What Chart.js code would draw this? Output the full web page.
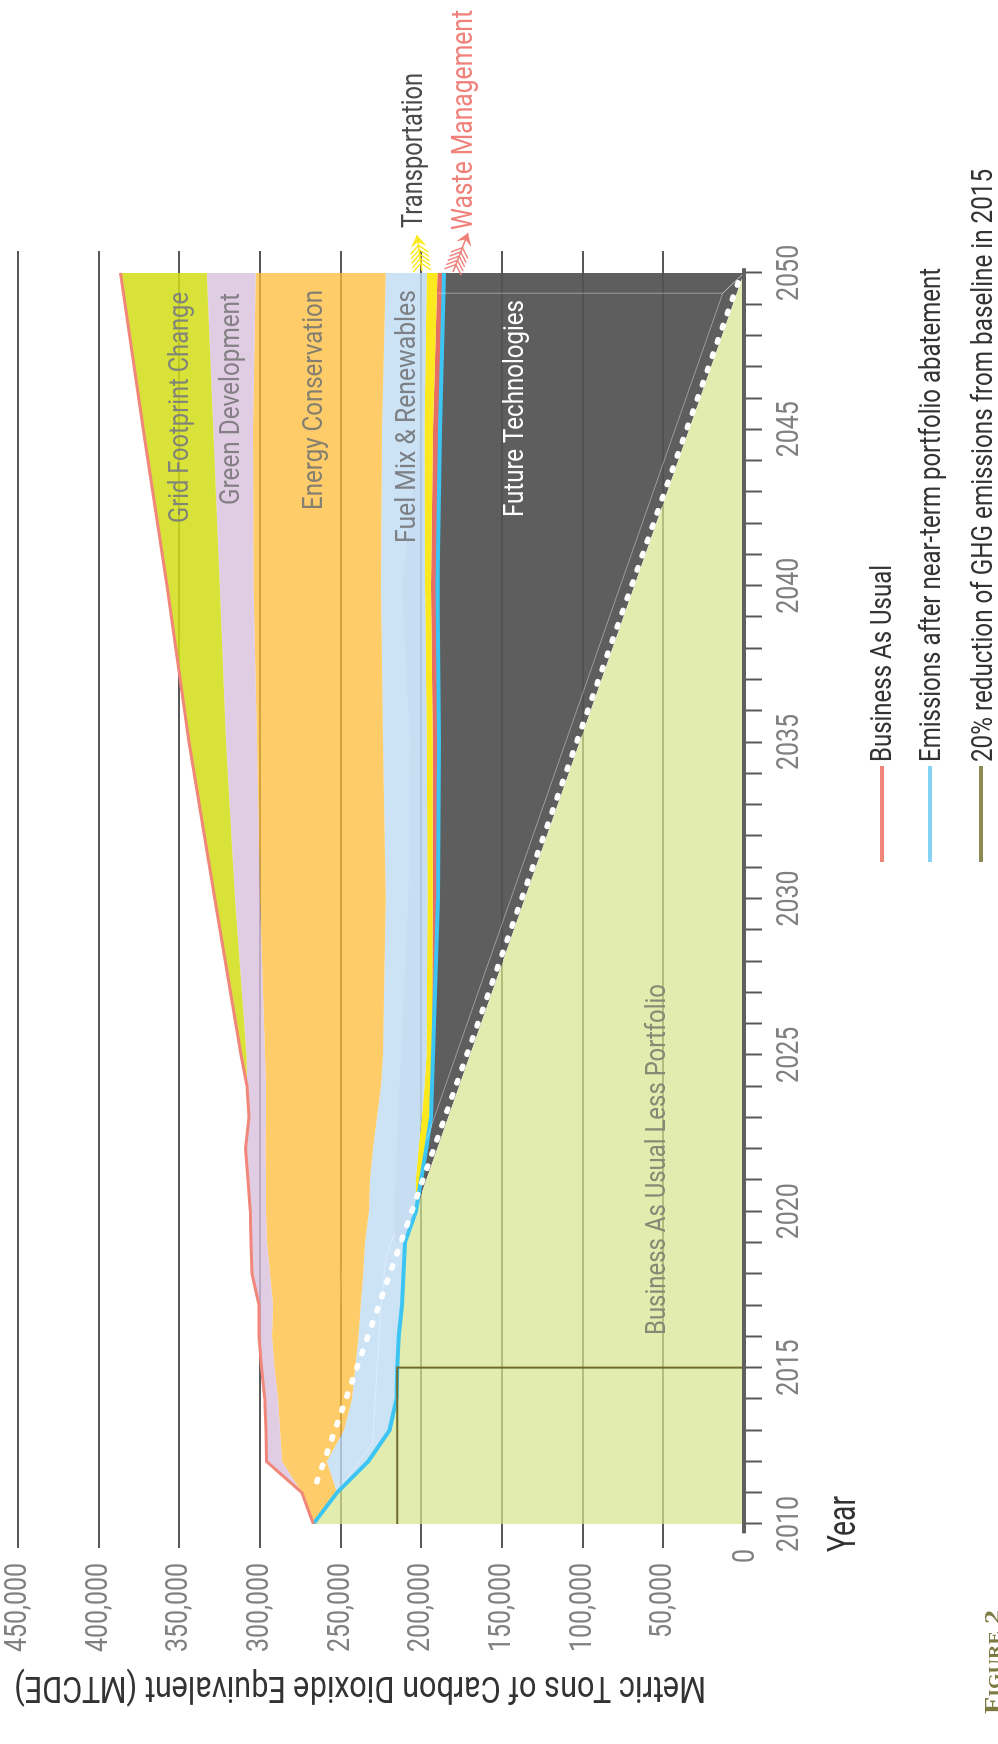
<!DOCTYPE html>
<html>
<head>
<meta charset="utf-8">
<title>Metric Tons of Carbon Dioxide Equivalent</title>
<script src="https://cdn.jsdelivr.net/npm/chart.js@4"></script>
<style>
  html, body { margin: 0; padding: 0; background: #fff; width: 998px; height: 1744px; overflow: hidden; }
  /* the figure is printed sideways: a normal chart turned 90deg counter-clockwise */
  #wrap { position: absolute; left: 0; top: 0; width: 1744px; height: 998px;
          transform-origin: 0 0; transform: translate(0, 1744px) rotate(-90deg); }
</style>
</head>
<body>
<div id="wrap"><canvas id="mainChart" width="1744" height="998"></canvas></div>
<script>
const years = [2010,2011,2012,2013,2014,2015,2016,2017,2018,2019,2020,2021,2022,2023,2024,2025,2030,2035,2040,2045,2050];

// upper edges of each band (MTCDE)
const businessAsUsual = [267000,274000,296000,296300,297000,299000,300600,300600,305000,305600,306000,307400,309000,306800,308000,311800,328000,344000,357600,372300,386400];
const gridFootprintLow = [267000,274000,296000,296300,297000,299000,300600,300600,305000,305600,306000,307400,309000,306800,308000,308300,315500,321000,325000,329000,333000];
const greenDevLow = [267000,274000,286300,287600,288800,291000,292500,291900,293800,295600,296300,296300,296600,296300,296300,296900,300000,301800,304000,304300,302600];
const energyLow = [267000,252300,258600,248000,243000,241000,239000,237600,236000,234900,232400,231800,230000,227500,225000,223800,222000,223700,225000,224400,222000];
const fuelMixLow = [267000,252300,233000,219700,215400,215000,214000,212000,211000,210200,203300,203500,201700,199800,198000,196800,196200,196700,197700,198000,196700];
const transportLow = [267000,252300,233000,219700,215400,215000,214000,212000,211000,210200,203300,200200,197000,194000,193400,193400,193000,193000,194000,192700,190000];
const afterPortfolio = [267000,252300,233000,219700,215400,215000,214000,212000,211000,210200,203300,200200,197000,194000,193400,192800,189700,189000,190000,188400,186000];

const lessPortfolioYears = [2010,2011,2012,2013,2014,2015,2016,2017,2018,2019,2020,2020.7,2050];
const lessPortfolio = [267000,252300,233000,219700,215400,215000,214000,212000,211000,210200,203300,199000,0];

const targetYears = [2011.35,2050];
const targetLine = [264800,1500];

const reductionYears = [2010,2015,2015];
const reductionLine = [215000,215000,0];

const fuelInnerYears = [2019,2020,2021,2025,2030,2035,2040,2045,2050];
const fuelInner = [216000,217000,216000,212600,208000,207000,212000,200800,199600];

// faint seams left over in the artwork
const orangeSeamYears = [2010.45,2011.46,2014,2015,2018,2020.4,2026.4,2032.9,2039.2,2044,2049.35];
const orangeSeam = [264800,271000,254700,253500,249300,244200,234900,236000,237600,237600,234900];
const blueSeamYears = [2011.2,2012.6,2013.7,2017,2018.6,2019.3];
const blueSeam = [250000,230000,229000,224900,221800,216600];
const darkSeamYears = [2022.3,2049.35,2050,2049.35,2049.35];
const darkSeam = [196700,13200,0,13200,190000];

const yTicks = [0,50000,100000,150000,200000,250000,300000,350000,400000,450000];

const font = 'Roboto, "Liberation Sans", sans-serif';
const tickGrey = '#808080';
const lineGrey = '#585858';

function points(xs, ys){
  return xs.map((x, i) => ({ x: x, y: ys[i] }));
}

function boundary(label, xs, ys, fillTo, color){
  return {
    label: label,
    data: points(xs, ys),
    borderWidth: 0,
    pointRadius: 0,
    tension: 0,
    fill: fillTo,
    backgroundColor: color
  };
}

const datasets = [
  { label: 'Reduction', data: points(reductionYears, reductionLine), borderColor: '#6f6b2b', borderWidth: 2, pointRadius: 0, fill: false },
  { label: 'Target', data: points(targetYears, targetLine), borderColor: '#ffffff', borderWidth: 5.5, borderCapStyle: 'round', borderDash: [2.5, 12.6], pointRadius: 0, fill: false },
  { label: 'Business As Usual', data: points(years, businessAsUsual), borderColor: '#f0877a', borderWidth: 3, pointRadius: 0, fill: 5, backgroundColor: 'rgba(210,221,21,.85)' },
  { label: 'Dark seam', data: points(darkSeamYears, darkSeam), borderColor: 'rgba(255,255,255,.38)', borderWidth: 1, pointRadius: 0, fill: false },
  { label: 'Emissions after near-term portfolio abatement', data: points(years, afterPortfolio), borderColor: '#3cc5f2', borderWidth: 4, pointRadius: 0,
    fill: { target: 14, above: 'rgba(82,82,82,.93)', below: 'rgba(0,0,0,0)' } },
  boundary('Green Development', years, gridFootprintLow, 6, 'rgba(216,192,221,.8)'),
  boundary('Energy Conservation', years, greenDevLow, 9, 'rgba(254,187,54,.75)'),
  { label: 'Orange seam', data: points(orangeSeamYears, orangeSeam), borderColor: 'rgba(255,255,255,.3)', borderWidth: 1, pointRadius: 0, fill: false },
  { label: 'Blue seam', data: points(blueSeamYears, blueSeam), borderColor: 'rgba(255,255,255,.35)', borderWidth: 1, pointRadius: 0, fill: false },
  boundary('Fuel Mix & Renewables', years, energyLow, 11, 'rgba(191,219,242,.8)'),
  boundary('Fuel inner', fuelInnerYears, fuelInner, 11, 'rgba(185,205,220,.4)'),
  boundary('Transportation', years, fuelMixLow, 12, '#fce81e'),
  boundary('Waste Management', years, transportLow, 13, '#e66e64'),
  boundary('After portfolio edge', years, afterPortfolio, false, 'transparent'),
  boundary('Business As Usual Less Portfolio', lessPortfolioYears, lessPortfolio, 'origin', 'rgba(215,229,143,.72)')
];

// text as on the figure: [text, px across the page, py where it starts, py where it ends, size, colour]
const pageLabels = [
  ['Grid Footprint Change', 181, 523, 292, 28, '#808578'],
  ['Green Development', 232, 505, 293, 28, '#858085'],
  ['Energy Conservation', 315, 510, 290, 28, '#857f70'],
  ['Fuel Mix & Renewables', 408, 543, 290, 28, '#7d8185'],
  ['Future Technologies', 516, 517, 300, 28, '#ffffff'],
  ['Business As Usual Less Portfolio', 658, 1335, 984, 28, '#868a75'],
  ['Transportation', 415, 228, 73, 29, '#4a4a4a'],
  ['Waste Management', 465, 230, 10, 29, '#f0807a'],
  ['Business As Usual', 883, 762, 565, 30, '#333333'],
  ['Emissions after near-term portfolio abatement', 932, 762, 268, 30, '#333333'],
  ['20% reduction of GHG emissions from baseline in 2015', 984, 762, 169, 30, '#333333'],
  ['Year', 845, 1552, 1496, 38, '#333333']
];
const legendRules = [
  [882, '#f0857a'],
  [930, '#85d2f5'],
  [981, '#8b8a52']
];

// page position (as seen after the turn) to canvas position
function pagePos(px, py){
  return [1744 - py, px];
}

// real text squeezed sideways, there is no condensed face installed
function narrowText(ctx, text, x, y, fontCss, color, squeeze, align){
  ctx.save();
  ctx.translate(x, y);
  ctx.scale(squeeze, 1);
  ctx.font = fontCss;
  ctx.fillStyle = color;
  ctx.textAlign = align;
  ctx.textBaseline = 'middle';
  ctx.fillText(text, 0, 0);
  ctx.restore();
}

function fitLabel(ctx, l){
  const p = pagePos(l[1], l[2]);
  ctx.font = l[4] + 'px ' + font;
  const squeeze = (l[2] - l[3]) / ctx.measureText(l[0]).width;
  narrowText(ctx, l[0], p[0], p[1], l[4] + 'px ' + font, l[5], squeeze, 'left');
}

function drawArrow(ctx, tail, head, color){
  const t = pagePos(tail[0], tail[1]);
  const h = pagePos(head[0], head[1]);
  const len = Math.hypot(h[0] - t[0], h[1] - t[1]);
  const ux = (h[0] - t[0]) / len, uy = (h[1] - t[1]) / len;
  const nx = -uy, ny = ux;
  ctx.strokeStyle = color;
  ctx.fillStyle = color;
  ctx.lineWidth = 1.4;
  ctx.beginPath();
  ctx.moveTo(t[0], t[1]);
  ctx.lineTo(h[0], h[1]);
  ctx.stroke();
  ctx.beginPath();
  ctx.moveTo(h[0], h[1]);
  ctx.lineTo(h[0] - ux * 12 + nx * 8, h[1] - uy * 12 + ny * 8);
  ctx.lineTo(h[0] - ux * 7, h[1] - uy * 7);
  ctx.lineTo(h[0] - ux * 12 - nx * 8, h[1] - uy * 12 - ny * 8);
  ctx.closePath();
  ctx.fill();
  for(let i = 0; i < 5; i++){
    const bx = t[0] + ux * (8 + i * 4.5), by = t[1] + uy * (8 + i * 4.5);
    ctx.beginPath();
    ctx.moveTo(bx - ux * 8 + nx * 9, by - uy * 8 + ny * 9);
    ctx.lineTo(bx, by);
    ctx.lineTo(bx - ux * 8 - nx * 9, by - uy * 8 - ny * 9);
    ctx.stroke();
  }
}

const pageDecor = {
  id: 'pageDecor',
  afterDatasetsDraw(chart){
    const ctx = chart.ctx;
    const xs = chart.scales.x, ys = chart.scales.y;
    const tickFont = '32px ' + font;
    ctx.save();

    // year axis bar
    ctx.strokeStyle = '#606060';
    ctx.lineWidth = 4;
    ctx.beginPath();
    ctx.moveTo(xs.getPixelForValue(2009.7), ys.getPixelForValue(0));
    ctx.lineTo(xs.getPixelForValue(2050.15), ys.getPixelForValue(0));
    ctx.stroke();

    // tick labels, placed by the scales
    xs.ticks.forEach(t => {
      if(t.value % 5 === 0) narrowText(ctx, String(t.value), xs.getPixelForValue(t.value), 790, tickFont, tickGrey, 0.78, 'center');
    });
    ys.ticks.forEach(t => {
      if(t.value > 0) narrowText(ctx, t.value.toLocaleString('en-US'), 181, ys.getPixelForValue(t.value), tickFont, tickGrey, 0.78, 'right');
    });
    narrowText(ctx, '0', 181, ys.getPixelForValue(0) + 2, tickFont, tickGrey, 0.78, 'left');

    pageLabels.forEach(l => fitLabel(ctx, l));

    // y axis title, reads upside down on the page
    ctx.save();
    ctx.translate(58, 360);
    ctx.rotate(-Math.PI / 2);
    ctx.font = '36px ' + font;
    const title = 'Metric Tons of Carbon Dioxide Equivalent (MTCDE)';
    narrowText(ctx, title, 0, 0, '36px ' + font, '#333333', 692 / ctx.measureText(title).width, 'center');
    ctx.restore();

    // caption runs off the page edge like the scan
    ctx.font = 'small-caps bold 24px "Liberation Serif", serif';
    narrowText(ctx, 'Figure 2', 30, 994, ctx.font, '#7b7a40', 104 / ctx.measureText('Figure 2').width, 'left');

    ctx.lineWidth = 4;
    legendRules.forEach(r => {
      const a = pagePos(r[0], 766), b = pagePos(r[0], 862);
      ctx.strokeStyle = r[1];
      ctx.beginPath();
      ctx.moveTo(a[0], a[1]);
      ctx.lineTo(b[0], b[1]);
      ctx.stroke();
    });

    drawArrow(ctx, [422, 271], [417, 235], '#fce81e');
    drawArrow(ctx, [453, 272], [468, 233], '#f0807a');
    ctx.restore();
  }
};

const ctx = document.getElementById('mainChart').getContext('2d');

new Chart(ctx, {
  type: 'line',
  data: { datasets: datasets },
  plugins: [pageDecor],
  options: {
    responsive: false,
    animation: false,
    devicePixelRatio: 1,
    layout: { padding: { top: 18, right: 251, left: 0, bottom: 0 } },
    plugins: {
      legend: { display: false },
      tooltip: { enabled: false },
      filler: { drawTime: 'beforeDatasetDraw', propagate: false }
    },
    scales: {
      x: {
        type: 'linear',
        min: 2010,
        max: 2050.7,
        afterBuildTicks: (scale) => {
          const t = [];
          for(let y = 2010; y <= 2050; y++) t.push({ value: y });
          scale.ticks = t;
        },
        afterFit: (scale) => { scale.height = 254; },
        border: { display: false },
        grid: { drawOnChartArea: false, drawTicks: true, tickLength: 18, tickColor: lineGrey, tickWidth: 2 },
        ticks: { display: false, autoSkip: false, maxRotation: 0 }
      },
      y: {
        type: 'linear',
        min: 0,
        max: 450000,
        afterBuildTicks: (scale) => { scale.ticks = yTicks.map(v => ({ value: v })); },
        afterFit: (scale) => { scale.width = 220; },
        border: { display: false },
        grid: {
          color: (c) => (c.tick && c.tick.value === 0 ? 'rgba(0,0,0,0)' : lineGrey),
          tickColor: (c) => (c.tick && c.tick.value === 0 ? 'rgba(0,0,0,0)' : lineGrey),
          lineWidth: 2,
          tickLength: 24
        },
        ticks: { display: false }
      }
    }
  }
});
</script>
</body>
</html>
